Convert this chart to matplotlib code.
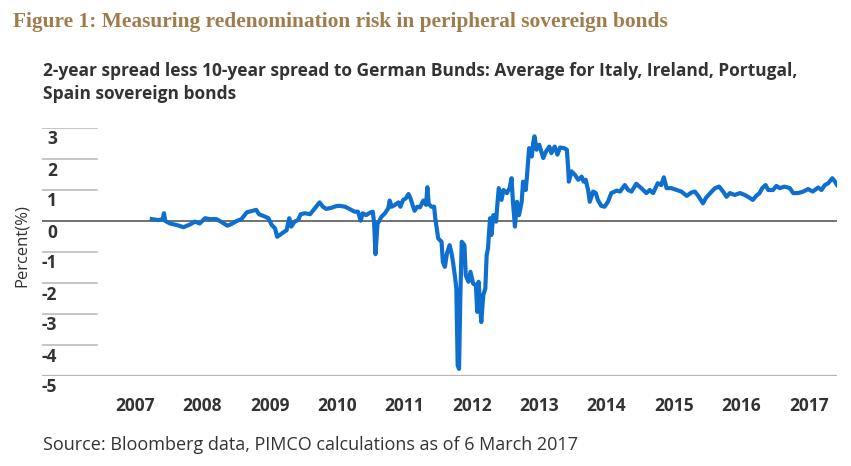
import matplotlib
matplotlib.use("Agg")
import matplotlib.pyplot as plt
import matplotlib.transforms as mtransforms

# decimal year, spread (percent)
years = [
    2007.25, 2007.35, 2007.41, 2007.43, 2007.45, 2007.52, 2007.62, 2007.72, 2007.82, 2007.89,
    2007.96, 2008.04, 2008.11, 2008.21, 2008.29, 2008.37, 2008.43, 2008.51, 2008.58, 2008.66,
    2008.73, 2008.80, 2008.84, 2008.93, 2008.98, 2009.03, 2009.08, 2009.11, 2009.15, 2009.20,
    2009.25, 2009.29, 2009.32, 2009.37, 2009.42, 2009.46, 2009.52, 2009.60, 2009.67, 2009.74,
    2009.79, 2009.84, 2009.92, 2009.99, 2010.04, 2010.12, 2010.19, 2010.26, 2010.31, 2010.35,
    2010.38, 2010.43, 2010.49, 2010.53, 2010.55, 2010.57, 2010.60, 2010.62, 2010.66, 2010.71,
    2010.76, 2010.78, 2010.81, 2010.86, 2010.91, 2010.94, 2010.98, 2011.02, 2011.06, 2011.09,
    2011.12, 2011.15, 2011.19, 2011.23, 2011.28, 2011.32, 2011.34, 2011.36, 2011.40, 2011.44,
    2011.46, 2011.48, 2011.50, 2011.55, 2011.57, 2011.60, 2011.63, 2011.67, 2011.70, 2011.72,
    2011.75, 2011.77, 2011.79, 2011.81, 2011.83, 2011.85, 2011.89, 2011.91, 2011.95, 2011.98,
    2012.02, 2012.06, 2012.08, 2012.10, 2012.14, 2012.17, 2012.20, 2012.22, 2012.24, 2012.27,
    2012.29, 2012.32, 2012.36, 2012.38, 2012.40, 2012.44, 2012.47, 2012.52, 2012.56, 2012.59,
    2012.61, 2012.64, 2012.67, 2012.70, 2012.74, 2012.76, 2012.80, 2012.82, 2012.85, 2012.89,
    2012.91, 2012.93, 2012.96, 2013.00, 2013.06, 2013.10, 2013.15, 2013.18, 2013.23, 2013.27,
    2013.31, 2013.37, 2013.41, 2013.43, 2013.44, 2013.48, 2013.53, 2013.58, 2013.63, 2013.66,
    2013.69, 2013.73, 2013.75, 2013.80, 2013.84, 2013.87, 2013.92, 2013.97, 2014.02, 2014.07,
    2014.15, 2014.20, 2014.27, 2014.32, 2014.37, 2014.44, 2014.52, 2014.59, 2014.64, 2014.69,
    2014.76, 2014.81, 2014.85, 2014.89, 2014.96, 2015.04, 2015.11, 2015.19, 2015.26, 2015.31,
    2015.36, 2015.43, 2015.48, 2015.56, 2015.61, 2015.67, 2015.73, 2015.78, 2015.83, 2015.90,
    2015.98, 2016.05, 2016.10, 2016.17, 2016.22, 2016.27, 2016.31, 2016.36, 2016.40, 2016.47,
    2016.52, 2016.57, 2016.64, 2016.72, 2016.77, 2016.84, 2016.92, 2016.99, 2017.06, 2017.14,
    2017.19, 2017.24, 2017.29, 2017.35, 2017.39, 2017.42,
]
spread = [
    0.06, 0.03, 0.06, 0.25, 0.00, -0.08, -0.13, -0.20, -0.11, -0.02,
    -0.08, 0.09, 0.06, 0.06, -0.04, -0.15, -0.10, 0.00, 0.06, 0.28,
    0.32, 0.36, 0.22, 0.14, 0.09, -0.13, -0.24, -0.51, -0.45, -0.37,
    -0.30, 0.09, -0.18, -0.02, 0.03, 0.22, 0.25, 0.22, 0.41, 0.60,
    0.46, 0.39, 0.43, 0.48, 0.49, 0.46, 0.38, 0.30, 0.30, 0.01,
    0.25, 0.19, 0.27, 0.30, -0.08, -1.07, -0.08, -0.02, 0.14, 0.25,
    0.41, 0.66, 0.46, 0.52, 0.60, 0.46, 0.68, 0.73, 0.87, 0.73,
    0.52, 0.33, 0.46, 0.44, 0.66, 0.52, 1.09, 0.55, 0.46, 0.46,
    0.03, -0.24, -0.56, -0.67, -1.32, -1.48, -1.05, -0.78, -1.05, -1.32,
    -1.80, -2.18, -4.66, -4.77, -2.39, -0.67, -0.78, -1.75, -1.96, -1.64,
    -2.02, -2.07, -2.93, -1.96, -3.26, -2.39, -2.18, -1.10, -0.88, 0.09,
    -0.45, 0.19, -0.02, 0.57, 1.06, 0.68, 1.00, 0.90, 1.06, 1.38,
    0.62, -0.18, 0.62, 0.19, 0.62, 1.27, 1.00, 1.49, 2.35, 2.08,
    2.51, 2.73, 2.30, 2.46, 2.03, 2.24, 2.40, 2.19, 2.40, 2.14,
    2.37, 2.35, 2.30, 1.70, 1.27, 1.60, 1.49, 1.33, 1.43, 1.27,
    1.33, 0.95, 0.62, 0.95, 0.90, 0.68, 0.49, 0.46, 0.62, 0.90,
    0.98, 0.95, 1.16, 1.00, 0.95, 1.20, 1.05, 0.90, 1.00, 0.90,
    1.22, 1.16, 1.41, 1.06, 1.06, 1.00, 0.95, 0.81, 0.92, 0.95,
    0.81, 0.57, 0.76, 0.95, 1.06, 1.11, 0.95, 0.78, 0.90, 0.84,
    0.90, 0.84, 0.78, 0.68, 0.81, 0.90, 1.06, 1.16, 1.00, 1.00,
    1.13, 1.06, 1.11, 1.06, 0.90, 0.90, 0.95, 1.03, 0.95, 1.08,
    1.00, 1.16, 1.22, 1.38, 1.27, 1.16,
]

year_ticks = [2007, 2008, 2009, 2010, 2011, 2012, 2013, 2014, 2015, 2016, 2017]
y_ticks = [3, 2, 1, 0, -1, -2, -3, -4, -5]

title = "Figure 1: Measuring redenomination risk in peripheral sovereign bonds"
subtitle_1 = "2-year spread less 10-year spread to German Bunds: Average for Italy, Ireland, Portugal,"
subtitle_2 = "Spain sovereign bonds"
source = "Source: Bloomberg data, PIMCO calculations as of 6 March 2017"

TEXT = "#333333"
BLUE = "#0f6fcf"
GRID = "#b5b5b5"

W, H = 851, 466
plt.rcParams["font.family"] = ["Open Sans", "DejaVu Sans"]

fig = plt.figure(figsize=(W / 100, H / 100), dpi=100)
fig.patch.set_facecolor("white")

# axes placed in pixel terms
left, right, top, bottom = 42, 837, 128, 376
ax = fig.add_axes([left / W, 1 - bottom / H, (right - left) / W, (bottom - top) / H])

ax.plot(years, spread, color=BLUE, lw=3.0, solid_joinstyle="round", zorder=3)

ax.set_xlim(2005.62, 2017.42)
ax.set_ylim(-5, 3)
for s in ax.spines.values():
    s.set_visible(False)

# short grid stubs by the labels, full lines at zero and bottom
for v in y_ticks:
    if v == 0:
        ax.axhline(v, color="#4a4a4a", lw=1.1, zorder=2)
    elif v == -5:
        ax.axhline(v, color=GRID, lw=1.6, zorder=2)
    else:
        ax.axhline(v, xmin=0, xmax=0.069, color=GRID, lw=1.1)

ax.set_yticks([])
trans = mtransforms.blended_transform_factory(ax.transAxes, ax.transData)
trans = mtransforms.offset_copy(trans, fig=fig, x=0, y=-16.5, units="dots")
for v in y_ticks:
    ax.text(0.0189, v, str(v), transform=trans, ha="right", va="baseline",
            fontsize=12.5, fontweight="bold", color=TEXT)

ax.set_xticks(year_ticks)
ax.set_xticklabels([str(y) for y in year_ticks], fontsize=12.5, fontweight="bold", color=TEXT)
ax.tick_params(axis="x", length=0, pad=15)

fig.text(12.7 / W, 1 - 27 / H, title, family=["Liberation Serif", "DejaVu Serif"],
         fontsize=15.4, fontweight="bold", color="#a07c4c", va="baseline")
fig.text(42.7 / W, 1 - 76 / H, subtitle_1, fontsize=12.5, fontweight="bold", color=TEXT, va="baseline")
fig.text(42.7 / W, 1 - 99 / H, subtitle_2, fontsize=12.5, fontweight="bold", color=TEXT, va="baseline")
fig.text(22 / W, 1 - 246 / H, "Percent(%)", rotation=90, fontsize=12, color=TEXT,
         ha="center", va="center")
fig.text(42.7 / W, 1 - 450.5 / H, source, fontsize=13, color=TEXT, va="baseline")

fig.savefig("out.png", dpi=100)
